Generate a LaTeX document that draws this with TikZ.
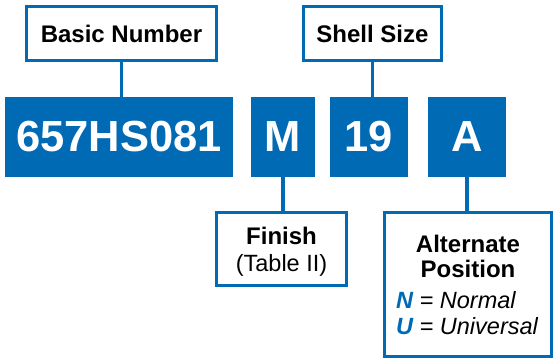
\documentclass[tikz,border=0pt]{standalone}
\usepackage{fontspec}
\setmainfont{Liberation Sans}
\definecolor{codeblue}{RGB}{0,106,180}
\begin{document}
\begin{tikzpicture}[x=1pt, y=-1pt,
   codebox/.style={fill=codeblue, text=white, inner sep=0pt, minimum height=80pt, font=\fontsize{43.5}{44}\selectfont\bfseries},
   tagbox/.style={draw=codeblue, line width=3pt, fill=white, inner sep=0pt, minimum height=54pt, font=\fontsize{24}{24}\selectfont\bfseries},
   tagtext/.style={anchor=base, inner sep=0pt, font=\fontsize{24}{24}\selectfont\bfseries},
   link/.style={codeblue, line width=3.5pt}]
   \useasboundingbox (0,0) rectangle (557,360);
   % Part number blocks
   \node[codebox, minimum width=228pt] (base) at (119,137) {657HS081};
   \node[codebox, minimum width=64pt] (fin) at (283,137) {M};
   \node[codebox, minimum width=78pt] (size) at (369,137) {19};
   \node[codebox, minimum width=78pt] (pos) at (467,137) {A};

   % Upper labels
   \node[tagbox, minimum width=190pt] (baseTag) at (121.5,33.5) {Basic Number};
   \node[tagbox, minimum width=138pt] (sizeTag) at (372.5,33.5) {Shell Size};
   \draw[link] (baseTag.south) -- (baseTag.south |- base.north);
   \draw[link] (sizeTag.south) -- (sizeTag.south |- size.north);

   % Finish
   \node[tagbox, minimum width=130pt, minimum height=73pt] (finTag) at (281.5,249) {};
   \node[tagtext] (finA) at (281.5,244) {Finish};
   \node[tagtext, font=\fontsize{23.5}{24}\selectfont] (finB) at (281.5,271) {(Table II)};
   \draw[link] (fin.south) -- (fin.south |- finTag.north);

   % Alternate position
   \node[tagbox, minimum width=167pt, minimum height=144pt] (posTag) at (468,284.5) {};
   \node[tagtext] (posA) at (468,252) {Alternate};
   \node[tagtext] (posB) at (468,277) {Position};
   \node[tagtext, anchor=base west, font=\fontsize{23.5}{24}\selectfont\itshape] (posN) at (396,308) {\textcolor{codeblue}{\bfseries N} = Normal};
   \node[tagtext, anchor=base west, font=\fontsize{23.5}{24}\selectfont\itshape] (posU) at (396,334) {\textcolor{codeblue}{\bfseries U} = Universal};
   \draw[link] (pos.south) -- (pos.south |- posTag.north);
\end{tikzpicture}
\end{document}
